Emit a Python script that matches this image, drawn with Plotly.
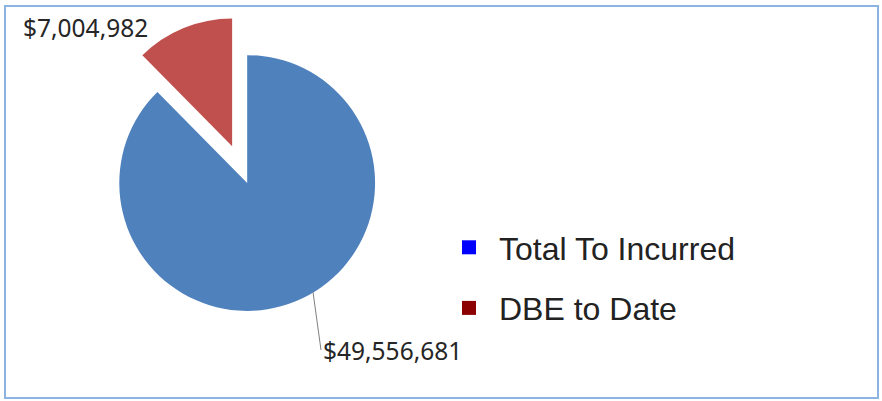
import plotly.graph_objects as go

# ---- data ----
categories = ["Total To Incurred", "DBE to Date"]
values = [49556681, 7004982]
slice_colors = ["#4F81BD", "#C0504D"]
legend_colors = ["#0000FF", "#8B0000"]
pulls = [0, 0.31]

W, H = 882, 401

def money(v):
    return "${:,.0f}".format(v)

fig = go.Figure()

fig.add_trace(go.Pie(
    labels=categories,
    values=values,
    marker=dict(colors=slice_colors, line=dict(width=0)),
    pull=pulls,
    sort=False,
    direction="clockwise",
    rotation=0,
    textinfo="none",
    hoverinfo="label+value",
    showlegend=False,
    domain=dict(x=[0.0903, 0.4702], y=[0.1254, 0.9618]),
))

# legend entries (colours as shown in the reference legend)
for i, (name, col) in enumerate(zip(categories, legend_colors)):
    fig.add_trace(go.Scatter(
        x=[None], y=[None], mode="markers", name=name,
        legendgroup=name,
        marker=dict(symbol="square", size=14, color=col),
    ))

# data labels
fig.add_annotation(
    x=21 / W, y=1 - 28 / H, xref="paper", yref="paper",
    text=money(values[1]), showarrow=False,
    xanchor="left", yanchor="middle",
    font=dict(family="Noto Sans", size=24.5, color="#262626"),
)
fig.add_annotation(
    x=313 / W, y=1 - 292 / H, xref="paper", yref="paper",
    ax=8, ay=58, axref="pixel", ayref="pixel",
    text=money(values[0]), showarrow=True, arrowhead=0, arrowwidth=1,
    arrowcolor="#7F7F7F", standoff=0, startstandoff=0,
    xanchor="left", yanchor="middle",
    font=dict(family="Noto Sans", size=24.5, color="#262626"),
)

# outer frame
fig.add_shape(type="rect", xref="paper", yref="paper",
              x0=5 / W, x1=878 / W, y0=1 - 398 / H, y1=1 - 6 / H,
              line=dict(color="#8DB3E2", width=2), layer="above")

fig.update_layout(
    width=W, height=H,
    margin=dict(l=0, r=0, t=0, b=0),
    paper_bgcolor="white", plot_bgcolor="white",
    xaxis=dict(visible=False), yaxis=dict(visible=False),
    legend=dict(
        x=439 / W, y=1 - 220 / H, xanchor="left", yanchor="top",
        font=dict(family="Liberation Sans", size=32, color="#222222"),
        tracegroupgap=16, itemwidth=50, bgcolor="rgba(0,0,0,0)",
    ),
)

fig.write_html("out.html", config={"displayModeBar": False},
               post_script="document.body.style.margin='0';")
